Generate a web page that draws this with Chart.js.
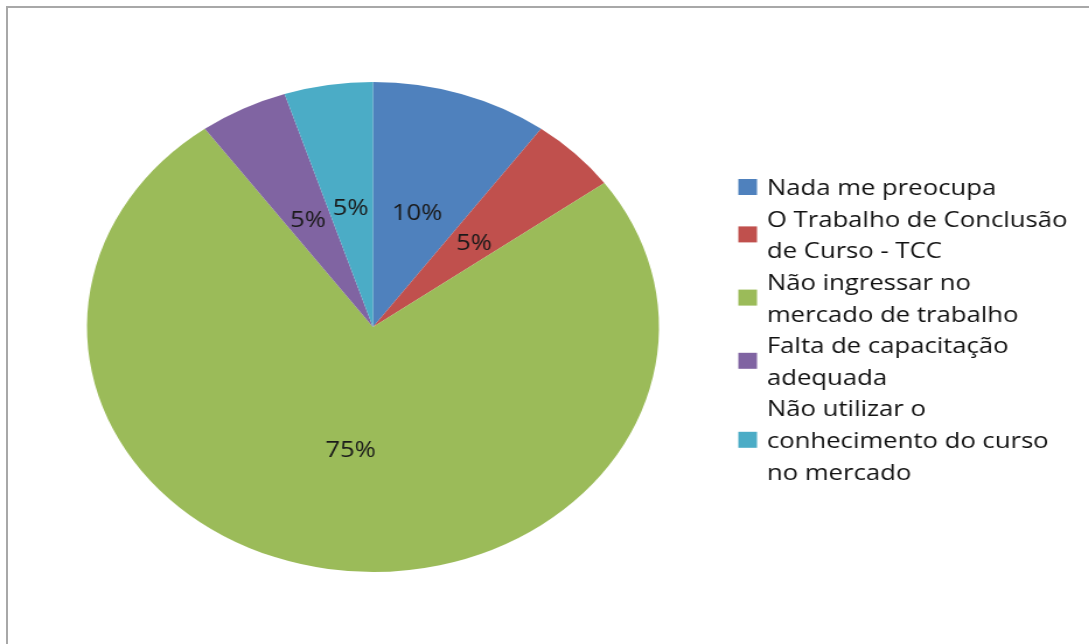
<!DOCTYPE html>
<html>
<head>
<meta charset="utf-8">
<script src="https://cdn.jsdelivr.net/npm/chart.js@4.4.1/dist/chart.umd.min.js"></script>
<style>
  html, body { margin: 0; padding: 0; background: #fff; overflow: hidden; }
  body { width: 1089px; height: 644px; position: relative; }
  #moldura {
    position: absolute; left: 6px; top: 6px; width: 1200px; height: 800px;
    border-top: 2px solid #a8a8a8; border-left: 2px solid #a8a8a8;
  }
  /* o grafico original esta esticado na horizontal */
  #graficoPizza {
    position: absolute; left: 0; top: 0;
    transform-origin: 0 0; transform: scaleX(1.1673);
  }
</style>
</head>
<body>
<div id="moldura"></div>
<canvas id="graficoPizza" width="933" height="644"></canvas>
<script>
// ==============================
// DADOS
// ==============================
const categorias = [
    ["Nada me preocupa"],
    ["O Trabalho de Conclusão", "de Curso - TCC"],
    ["Não ingressar no", "mercado de trabalho"],
    ["Falta de capacitação", "adequada"],
    ["Não utilizar o", "conhecimento do curso", "no mercado"]
];
const percentuais = [10, 5, 75, 5, 5];
const cores = ["#4F81BD", "#C0504D", "#9BBB59", "#8064A2", "#4BACC6"];

const FONTE = '"Open Sans", "DejaVu Sans", sans-serif';

// rotulos % no meio de cada fatia
const rotulosFatias = {
    id: 'rotulosFatias',
    afterDatasetsDraw(chart) {
        const { ctx } = chart;
        const meta = chart.getDatasetMeta(0);
        ctx.save();
        ctx.font = "22px " + FONTE;
        ctx.fillStyle = "#1a1a1a";
        ctx.textAlign = "center";
        ctx.textBaseline = "middle";
        meta.data.forEach((arc, i) => {
            const p = arc.tooltipPosition();
            ctx.fillText(chart.data.datasets[0].data[i] + "%", p.x, p.y + 3);
        });
        ctx.restore();
    }
};

// legenda com quebra de linha (a do Chart.js nao quebra)
const legendaMultilinha = {
    id: 'legendaMultilinha',
    afterDraw(chart) {
        const { ctx } = chart;
        const xCaixa = 632.5, xTexto = 657, tamCaixa = 16;
        const linhaAltura = 31.6;
        let y = 187;

        ctx.save();
        ctx.font = "22px " + FONTE;
        ctx.textBaseline = "middle";
        chart.data.labels.forEach((linhas, i) => {
            const meio = y + (linhas.length - 1) * linhaAltura / 2;
            ctx.fillStyle = cores[i];
            ctx.fillRect(xCaixa, meio - tamCaixa / 2, tamCaixa, tamCaixa);
            ctx.fillStyle = "#111";
            linhas.forEach((t, j) => ctx.fillText(t, xTexto, y + j * linhaAltura + 2));
            y += linhas.length * linhaAltura;
        });
        ctx.restore();
    }
};

function desenhar() {
    const ctx = document.getElementById("graficoPizza").getContext("2d");
    new Chart(ctx, {
        type: "pie",
        data: {
            labels: categorias,
            datasets: [{
                data: percentuais,
                backgroundColor: cores,
                borderWidth: 0
            }]
        },
        options: {
            responsive: false,
            animation: false,
            layout: {
                padding: { left: 74.5, right: 368.5, top: 82, bottom: 72 }
            },
            plugins: {
                legend: { display: false },
                tooltip: { enabled: false }
            }
        },
        plugins: [rotulosFatias, legendaMultilinha]
    });
}

document.fonts.load('22px "Open Sans"').then(desenhar, desenhar);
</script>
</body>
</html>
